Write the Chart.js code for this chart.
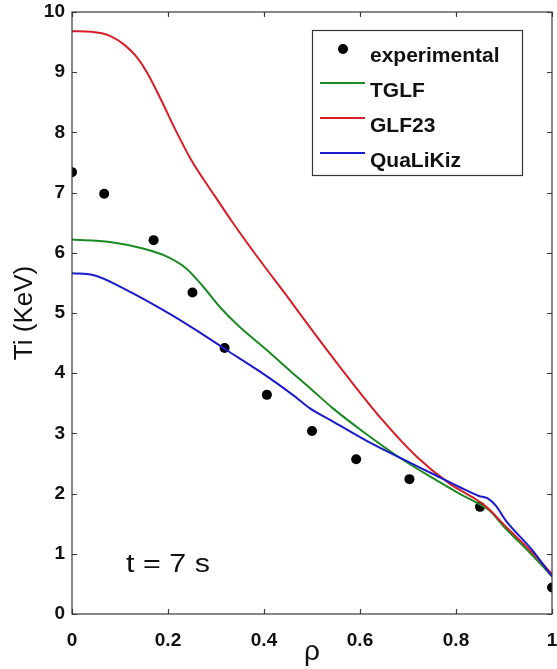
<!DOCTYPE html>
<html><head><meta charset="utf-8">
<script src="https://cdn.jsdelivr.net/npm/chart.js@4"></script>
<style>html,body{margin:0;padding:0;background:#fff;overflow:hidden}</style>
</head><body>
<canvas id="c" width="557" height="669" style="display:block;width:557px;height:669px"></canvas>
<script>
// ---- data ----
const seriesNames = ['experimental', 'TGLF', 'GLF23', 'QuaLiKiz'];
const rhoExp = [0, 0.067, 0.170, 0.251, 0.318, 0.406, 0.500, 0.592, 0.703, 0.850, 1.0];
const tiExp  = [7.34, 6.98, 6.21, 5.34, 4.42, 3.64, 3.04, 2.57, 2.24, 1.78, 0.44];

const rhoTGLF = [0, 0.079, 0.148, 0.197, 0.238, 0.273, 0.308, 0.349, 0.405, 0.46, 0.495, 0.543, 0.613, 0.682, 0.751, 0.807, 0.845, 0.87, 0.9, 0.95, 1.0];
const tiTGLF  = [6.22, 6.18, 6.07, 5.94, 5.74, 5.44, 5.10, 4.77, 4.39, 4.0, 3.76, 3.42, 2.99, 2.6, 2.26, 2.00, 1.84, 1.72, 1.45, 1.05, 0.63];

const rhoGLF23 = [0, 0.04, 0.08, 0.11, 0.135, 0.156, 0.185, 0.215, 0.25, 0.297, 0.335, 0.391, 0.446, 0.495, 0.578, 0.647, 0.716, 0.786, 0.834, 0.862, 0.903, 0.959, 1.0];
const tiGLF23  = [9.68, 9.67, 9.6, 9.45, 9.25, 9.0, 8.55, 8.05, 7.52, 6.95, 6.5, 5.88, 5.3, 4.77, 3.9, 3.22, 2.63, 2.17, 1.94, 1.79, 1.46, 1.02, 0.66];

const rhoQLK = [0, 0.044, 0.114, 0.183, 0.252, 0.321, 0.391, 0.46, 0.495, 0.543, 0.613, 0.682, 0.751, 0.807, 0.848, 0.866, 0.883, 0.903, 0.959, 1.0];
const tiQLK  = [5.66, 5.63, 5.38, 5.08, 4.75, 4.39, 4.03, 3.64, 3.42, 3.2, 2.88, 2.6, 2.33, 2.11, 1.96, 1.92, 1.8, 1.56, 1.06, 0.62];

const xTicks = [0, 0.2, 0.4, 0.6, 0.8, 1];
const xTickLabels = ['0', '0.2', '0.4', '0.6', '0.8', '1'];
const yTicks = [0, 1, 2, 3, 4, 5, 6, 7, 8, 9, 10];
const yTickLabels = ['0', '1', '2', '3', '4', '5', '6', '7', '8', '9', '10'];
const xTitle = 'ρ';
const yTitle = 'Ti (KeV)';
const note = 't = 7 s';

// ---- build ----
const pts = (xs, ys) => xs.map((x, i) => ({x: x, y: ys[i]}));
const FONT = "'Liberation Sans', Arial, Helvetica, sans-serif";
const AX = '#3a3a3a';

const frame = {
  id: 'frame',
  afterDatasetsDraw(chart) {
    const ctx = chart.ctx, a = chart.chartArea;
    const xs = chart.scales.x, ys = chart.scales.y;
    ctx.save();
    ctx.strokeStyle = AX; ctx.lineWidth = 1.2;
    ctx.strokeRect(a.left, a.top, a.right - a.left, a.bottom - a.top);
    const tl = 5;
    ctx.beginPath();
    xs.ticks.forEach(t => {
      const p = Math.round(xs.getPixelForValue(t.value)) + 0.5;
      ctx.moveTo(p, a.bottom); ctx.lineTo(p, a.bottom - tl);
      ctx.moveTo(p, a.top); ctx.lineTo(p, a.top + tl);
    });
    ys.ticks.forEach(t => {
      const p = Math.round(ys.getPixelForValue(t.value)) + 0.5;
      ctx.moveTo(a.left, p); ctx.lineTo(a.left + tl, p);
      ctx.moveTo(a.right, p); ctx.lineTo(a.right - tl, p);
    });
    ctx.stroke();

    // legend
    const L = 312, T = 30, W = 210, H = 145;
    ctx.fillStyle = '#fff';
    ctx.fillRect(L, T, W, H);
    ctx.strokeStyle = '#333'; ctx.lineWidth = 1.2;
    ctx.strokeRect(L + 0.5, T + 0.5, W, H);
    ctx.font = 'bold 21px ' + FONT;
    ctx.textBaseline = 'alphabetic'; ctx.textAlign = 'left';
    chart.data.datasets.forEach((ds, i) => {
      const base = 62 + i * 35;
      const my = base - 13;
      if (ds.showLine === false) {
        ctx.fillStyle = '#000';
        ctx.beginPath(); ctx.arc(343, my, 5, 0, Math.PI * 2); ctx.fill();
      } else {
        ctx.strokeStyle = ds.borderColor; ctx.lineWidth = 2;
        ctx.beginPath(); ctx.moveTo(320, my - 1); ctx.lineTo(365, my - 1); ctx.stroke();
      }
      ctx.fillStyle = '#111';
      ctx.fillText(ds.label, 370, base);
    });

    // annotation
    ctx.font = '25px ' + FONT;
    ctx.fillStyle = '#111';
    ctx.translate(126, 572);
    ctx.scale(1.22, 1);
    ctx.fillText(note, 0, 0);
    ctx.restore();
  }
};

const noPad = s => { s.paddingLeft = 0; s.paddingRight = 0; s.paddingTop = 0; s.paddingBottom = 0; };

new Chart(document.getElementById('c'), {
  type: 'line',
  data: {
    datasets: [
      {label: seriesNames[0], data: pts(rhoExp, tiExp), showLine: false, pointRadius: 5,
       pointBackgroundColor: '#000', pointBorderColor: '#000', pointBorderWidth: 0, order: 5},
      {label: seriesNames[1], data: pts(rhoTGLF, tiTGLF), borderColor: '#1c8a22', borderWidth: 2,
       pointRadius: 0, cubicInterpolationMode: 'monotone', order: 3},
      {label: seriesNames[2], data: pts(rhoGLF23, tiGLF23), borderColor: '#d61f26', borderWidth: 2,
       pointRadius: 0, cubicInterpolationMode: 'monotone', order: 2},
      {label: seriesNames[3], data: pts(rhoQLK, tiQLK), borderColor: '#1b1bcc', borderWidth: 2,
       pointRadius: 0, cubicInterpolationMode: 'monotone', order: 1}
    ]
  },
  options: {
    responsive: false,
    animation: false,
    devicePixelRatio: 1,
    layout: {padding: {top: 12, right: 3, left: 0, bottom: 0}},
    plugins: {legend: {display: false}, tooltip: {enabled: false}},
    scales: {
      x: {
        type: 'linear', min: 0, max: 1,
        afterBuildTicks: s => { s.ticks = xTicks.map(v => ({value: v})); },
        afterFit: s => { s.height = 55; noPad(s); },
        ticks: {callback: (v, i) => xTickLabels[i], autoSkip: false, maxRotation: 0,
                font: {family: FONT, weight: 'bold', size: 19}, color: '#111', padding: 15},
        grid: {display: false, drawTicks: false},
        border: {display: false},
        title: {display: true, text: xTitle, color: '#111', font: {family: FONT, size: 28},
                padding: {top: 0, bottom: 0}}
      },
      y: {
        type: 'linear', min: 0, max: 10,
        afterBuildTicks: s => { s.ticks = yTicks.map(v => ({value: v})); },
        afterFit: s => { s.width = 72; noPad(s); },
        ticks: {callback: (v, i) => yTickLabels[i], autoSkip: false,
                font: {family: FONT, weight: 'bold', size: 19}, color: '#111', padding: 7},
        grid: {display: false, drawTicks: false},
        border: {display: false},
        title: {display: true, text: yTitle, color: '#111', font: {family: FONT, size: 26},
                padding: {top: 9, bottom: 0}}
      }
    }
  },
  plugins: [frame]
});
</script>
</body></html>
